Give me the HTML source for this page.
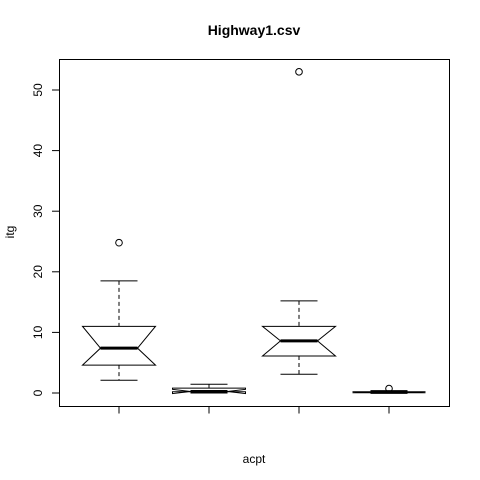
<!DOCTYPE html>
<html><head><meta charset="utf-8"><style>body{margin:0;background:#fff}svg{display:block;font-family:"Liberation Sans",sans-serif}</style></head>
<body>
<svg id="c" width="480" height="480">
<rect width="480" height="480" fill="#fff"/>
<text x="254" y="35" text-anchor="middle" font-size="14" font-weight="bold">Highway1.csv</text>
<text x="254" y="463" text-anchor="middle" font-size="12">acpt</text>
<text transform="translate(14,232) rotate(-90)" text-anchor="middle" font-size="12">itg</text>
<rect x="59.5" y="59.5" width="390" height="347" fill="none" stroke="#000"/>
</svg>
<script>
const groups=['1','2','3','4'];
const whiskLo=[2.1,0.0,3.1,0.0];
const q1=[4.6,0.2,6.1,0.05];
const med=[7.4,0.25,8.6,0.1];
const q3=[11.0,0.8,11.0,0.2];
const whiskHi=[18.5,1.45,15.2,0.4];
const notchLo=[4.6,-0.1,6.1,0.05];
const notchHi=[11.0,0.6,11.0,0.2];
const outliers=[[24.8],[],[53.0],[0.73]];
const yTicks=[0,10,20,30,40,50];
const NS='http://www.w3.org/2000/svg';
const svg=document.getElementById('c');
const y=v=>393-v*6.06;
const x=i=>119+i*90;
function mk(t,a){const e=document.createElementNS(NS,t);for(const k in a)e.setAttribute(k,a[k]);svg.appendChild(e);return e;}
yTicks.forEach(t=>{
 const l=mk('line',{x1:52,x2:59.5,y1:y(t),y2:y(t),stroke:'#000'});
 
 
 const tx=mk('text',{transform:`translate(42,${y(t)}) rotate(-90)`,'text-anchor':'middle','font-size':12});
 tx.textContent=t;
 
 
});
groups.forEach((g,i)=>{
 const cx=x(i);
 const t=mk('line',{x1:cx,x2:cx,y1:406.5,y2:413.5,stroke:'#000'});
 
 
 const hw=36.5,nw=18.5;
 const w1=mk('line',{x1:cx,x2:cx,y1:y(whiskHi[i]),y2:y(q3[i]),stroke:'#000','stroke-dasharray':'4,3'});
 
 
 const w2=mk('line',{x1:cx,x2:cx,y1:y(q1[i]),y2:y(whiskLo[i]),stroke:'#000','stroke-dasharray':'4,3'});
 
 
 const c1=mk('line',{x1:cx-nw,x2:cx+nw,y1:y(whiskHi[i]),y2:y(whiskHi[i]),stroke:'#000'});
 
 
 const c2=mk('line',{x1:cx-nw,x2:cx+nw,y1:y(whiskLo[i]),y2:y(whiskLo[i]),stroke:'#000'});
 
 
 const pts=[[cx-hw,y(q3[i])],[cx+hw,y(q3[i])],[cx+hw,y(notchHi[i])],[cx+nw,y(med[i])],[cx+hw,y(notchLo[i])],[cx+hw,y(q1[i])],[cx-hw,y(q1[i])],[cx-hw,y(notchLo[i])],[cx-nw,y(med[i])],[cx-hw,y(notchHi[i])]];
 const b=mk('polygon',{points:pts.map(p=>p.join(',')).join(' '),fill:'#fff',stroke:'#000'});
 
 
 const m=mk('line',{x1:cx-nw,x2:cx+nw,y1:y(med[i]),y2:y(med[i]),stroke:'#000','stroke-width':3});
 
 
 outliers[i].forEach(o=>{
  const c=mk('circle',{cx:cx,cy:y(o),r:3.3,fill:'none',stroke:'#000'});
  
  
 });
});
</script>
</body></html>
